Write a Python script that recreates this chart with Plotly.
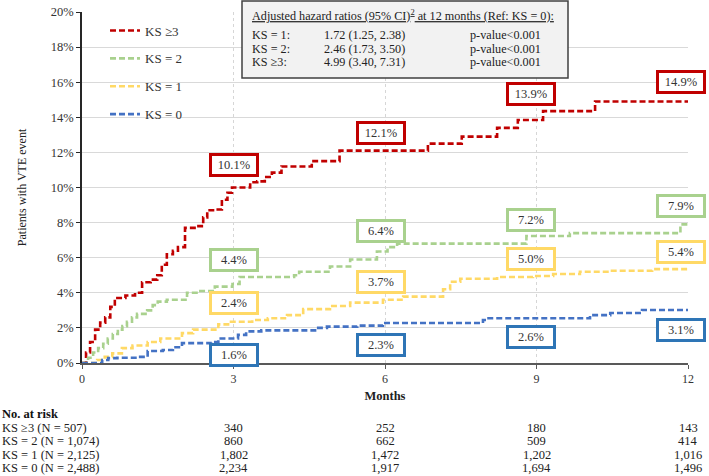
import plotly.graph_objects as go

# ---------------- data ----------------
t_ks3 = [0, 0.08, 0.16, 0.26, 0.36, 0.46, 0.56, 0.65, 0.86, 1.05, 1.19, 1.36, 1.49, 1.58, 1.68, 1.80, 1.90, 2.04,
         2.27, 2.40, 2.48, 2.66, 2.77, 2.88, 2.97, 3.33, 3.47, 3.62, 3.76, 3.95, 4.55, 5.10, 6.85, 7.52, 8.22, 8.63,
         9.13, 10.16, 12.0]
y_ks3 = [0, 0.6, 1.2, 1.9, 2.3, 2.6, 3.2, 3.7, 3.85, 4.0, 4.6, 4.75, 5.0, 5.6, 6.2, 6.4, 6.6, 7.7,
         7.8, 8.3, 8.7, 8.75, 9.3, 9.7, 10.0, 10.3, 10.35, 10.6, 10.85, 11.2, 11.5, 12.1, 12.5, 12.9, 13.4, 13.85,
         14.35, 14.9, 14.9]

t_ks2 = [0, 0.12, 0.22, 0.32, 0.42, 0.51, 0.61, 0.71, 0.80, 0.89, 0.99, 1.09, 1.29, 1.40, 1.50, 1.68, 2.08, 2.30,
         2.63, 2.98, 3.12, 4.20, 4.30, 4.91, 5.31, 5.84, 6.05, 6.24, 8.80, 9.66, 11.85, 12.0]
y_ks2 = [0, 0.3, 0.6, 0.85, 1.1, 1.4, 1.65, 1.9, 2.1, 2.35, 2.6, 2.8, 3.0, 3.3, 3.5, 3.6, 4.0, 4.1,
         4.35, 4.5, 4.9, 5.0, 5.2, 5.5, 5.9, 6.35, 6.6, 6.8, 7.24, 7.4, 7.9, 7.9]

t_ks1 = [0, 0.30, 0.45, 0.60, 0.79, 1.0, 1.30, 1.55, 1.98, 2.20, 2.70, 2.95, 3.37, 3.68, 4.06, 4.38, 4.91, 5.31,
         5.96, 6.36, 7.15, 7.29, 7.49, 8.22, 8.93, 9.33, 9.86, 10.46, 11.29, 12.0]
y_ks1 = [0, 0.17, 0.35, 0.55, 0.85, 1.0, 1.2, 1.4, 1.7, 1.9, 2.2, 2.35, 2.45, 2.55, 2.73, 3.07, 3.25, 3.44,
         3.6, 3.78, 4.2, 4.63, 4.8, 4.9, 4.96, 5.07, 5.2, 5.26, 5.35, 5.35]

t_ks0 = [0, 0.40, 0.52, 0.70, 1.10, 1.30, 1.60, 1.80, 1.98, 2.57, 2.70, 3.09, 3.25, 3.55, 4.65, 4.85, 5.45, 5.96,
         7.94, 8.05, 10.06, 10.46, 11.09, 12.0]
y_ks0 = [0, 0.17, 0.28, 0.3, 0.35, 0.68, 0.74, 0.9, 1.13, 1.2, 1.4, 1.6, 1.8, 1.86, 2.0, 2.07, 2.13, 2.28,
         2.45, 2.55, 2.73, 2.85, 3.02, 3.05]

series_names = ["KS \u22653", "KS = 2", "KS = 1", "KS = 0"]

label_months = [3, 6, 9, 12]
label_ks3 = [10.1, 12.1, 13.9, 14.9]
label_ks2 = [4.4, 6.4, 7.2, 7.9]
label_ks1 = [2.4, 3.7, 5.0, 5.4]
label_ks0 = [1.6, 2.3, 2.6, 3.1]

x_ticks = [0, 3, 6, 9, 12]
y_ticks = [0, 2, 4, 6, 8, 10, 12, 14, 16, 18, 20]

risk_rows = ["KS \u22653 (N = 507)", "KS = 2 (N = 1,074)", "KS = 1 (N = 2,125)", "KS = 0 (N = 2,488)"]
risk_ks3 = ["340", "252", "180", "143"]
risk_ks2 = ["860", "662", "509", "414"]
risk_ks1 = ["1,802", "1,472", "1,202", "1,016"]
risk_ks0 = ["2,234", "1,917", "1,694", "1,496"]

hr_rows = ["KS = 1:", "KS = 2:", "KS \u22653:"]
hr_vals = ["1.72 (1.25, 2.38)", "2.46 (1.73, 3.50)", "4.99 (3.40, 7.31)"]
hr_p = ["p-value<0.001", "p-value<0.001", "p-value<0.001"]

# ---------------- style ----------------
FONT = "Liberation Serif, Times New Roman, serif"
line_colors = ["#C00000", "#A9D18E", "#FFD966", "#4472C4"]
box_colors = ["#C00000", "#A9D18E", "#FFD966", "#2E75B6"]
W, H = 709, 476
ML, MR, MT, MB = 82, 21, 12, 113
PH = H - MT - MB

fig = go.Figure()
for name, tx, ty, col in zip(series_names, [t_ks3, t_ks2, t_ks1, t_ks0], [y_ks3, y_ks2, y_ks1, y_ks0], line_colors):
    fig.add_trace(go.Scatter(
        x=tx, y=ty, mode="lines", name=name, line_shape="hv",
        line=dict(color=col, width=2.6, dash="6px,3px"),
        legendgroup=name, hoverinfo="skip"))

# value labels (boxed)
label_offsets = [
    [1.2, 1.0, 1.4, 1.1],
    [1.47, 1.12, 0.95, 1.05],
    [1.02, 0.89, 0.93, 0.9],
    [-1.14, -1.25, -1.09, -1.22],
]
label_xshift = [0, -4, -6, -7]
annotations = []
for vals, offs, bc in zip([label_ks3, label_ks2, label_ks1, label_ks0], label_offsets, box_colors):
    for m, v, o, xs in zip(label_months, vals, offs, label_xshift):
        annotations.append(dict(
            x=m, y=v + o, xref="x", yref="y", text=f"{v:.1f}%", showarrow=False,
            xshift=xs, font=dict(family=FONT, size=12.5, color="#333333"),
            bgcolor="white", bordercolor=bc, borderwidth=3, borderpad=1,
            width=42, height=16, align="center"))

# hazard ratio box
def px_x(p):
    return (p - ML) / (W - ML - MR)

def px_y(p):
    return (H - MB - p) / PH

shapes = [dict(type="rect", xref="paper", yref="paper",
               x0=px_x(242), x1=px_x(568), y0=px_y(78), y1=px_y(1),
               fillcolor="#F2F2F2", line=dict(color="#404040", width=1.5), layer="above")]

annotations.append(dict(
    x=px_x(250), y=px_y(15), xref="paper", yref="paper", xanchor="left", yanchor="middle",
    text="<u>Adjusted hazard ratios (95% CI)<sup>2</sup> at 12 months (Ref: KS = 0):</u>",
    showarrow=False, font=dict(family=FONT, size=12.2, color="#222222")))
for i, (r, v, p) in enumerate(zip(hr_rows, hr_vals, hr_p)):
    yy = px_y(35 + 13.5 * i)
    for xp, txt in zip([250, 322, 468], [r, v, p]):
        annotations.append(dict(
            x=px_x(xp), y=yy, xref="paper", yref="paper", xanchor="left", yanchor="middle",
            text=txt, showarrow=False, font=dict(family=FONT, size=12.2, color="#222222")))

# risk table
annotations.append(dict(
    x=px_x(0), y=0, yshift=-(414 - (H - MB)), xref="paper", yref="paper", xanchor="left", yanchor="middle",
    text="<b>No. at risk</b>", showarrow=False, font=dict(family=FONT, size=12.5, color="#111111")))
for i, (r, vals) in enumerate(zip(risk_rows, [risk_ks3, risk_ks2, risk_ks1, risk_ks0])):
    ys = -(428 + 13.4 * i - (H - MB))
    annotations.append(dict(
        x=px_x(0), y=0, yshift=ys, xref="paper", yref="paper", xanchor="left", yanchor="middle",
        text=r, showarrow=False, font=dict(family=FONT, size=12.5, color="#222222")))
    for m, v in zip(label_months, vals):
        annotations.append(dict(
            x=m, y=0, yshift=ys, xref="x", yref="paper", xanchor="center", yanchor="middle",
            text=v, showarrow=False, font=dict(family=FONT, size=12.5, color="#222222")))

fig.update_layout(
    width=W, height=H,
    margin=dict(l=ML, r=MR, t=MT, b=MB, autoexpand=False),
    paper_bgcolor="white", plot_bgcolor="white",
    font=dict(family=FONT, size=12, color="#333333"),
    showlegend=True,
    legend=dict(x=0.038, y=0.99, xanchor="left", yanchor="top", bgcolor="rgba(0,0,0,0)",
                font=dict(family=FONT, size=13, color="#333333"), tracegroupgap=8,
                itemwidth=30),
    annotations=annotations,
    shapes=shapes,
)
fig.update_xaxes(
    range=[0, 12], tickvals=x_ticks, ticktext=[str(v) for v in x_ticks],
    showgrid=True, gridcolor="#D6D6D6", griddash="3px,3px", gridwidth=1,
    showline=True, linecolor="#595959", linewidth=1.5,
    ticks="outside", ticklen=4, tickcolor="#595959",
    zeroline=False, automargin=False,
    tickfont=dict(family=FONT, size=12, color="#333333"),
    title=dict(text="<b>Months</b>", font=dict(family=FONT, size=12.5, color="#222222"), standoff=6),
)
fig.update_yaxes(
    range=[0, 20], tickvals=y_ticks, ticktext=[f"{v}%" for v in y_ticks],
    showgrid=True, gridcolor="#D9D9D9", gridwidth=1,
    showline=True, linecolor="#262626", linewidth=1.5,
    ticks="outside", ticklen=4, tickcolor="#262626",
    zeroline=False, automargin=False,
    tickfont=dict(family=FONT, size=12.5, color="#333333"),
    title=dict(text="Patients with VTE event", font=dict(family=FONT, size=12, color="#222222"), standoff=22),
)

fig.write_html("out.html", config={"displayModeBar": False},
               post_script="document.body.style.margin='0';document.body.style.overflow='hidden';")
